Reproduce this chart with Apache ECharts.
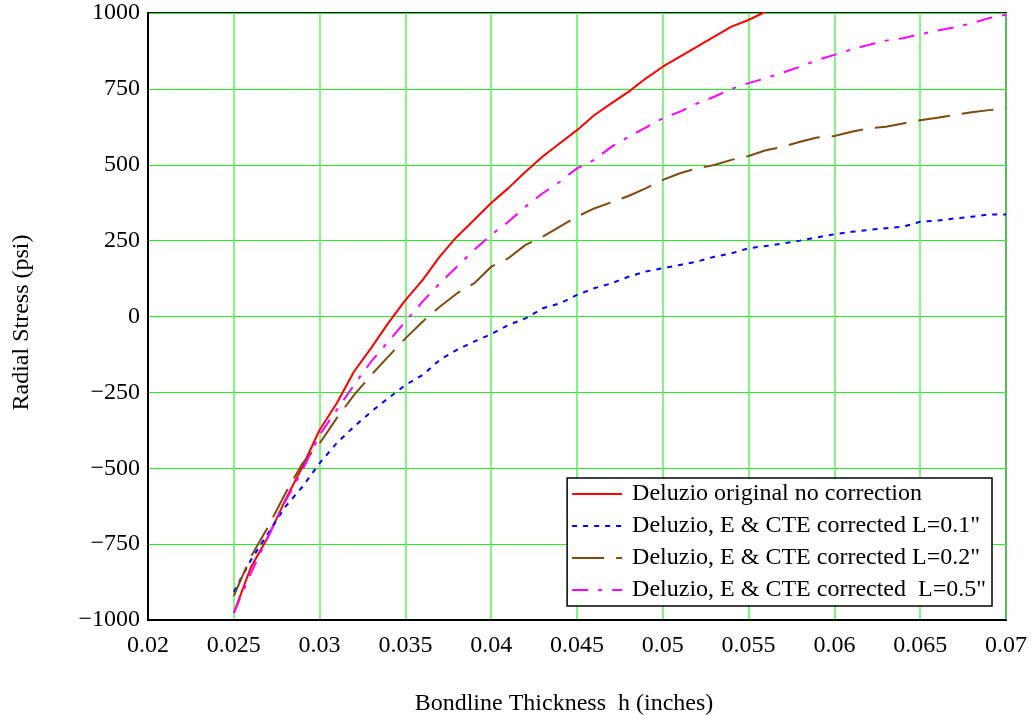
<!DOCTYPE html>
<html>
<head>
<meta charset="utf-8">
<script src="https://cdn.jsdelivr.net/npm/echarts@6/dist/echarts.min.js"></script>
<style>html,body{margin:0;padding:0;background:#fff}#c{width:1036px;height:715px}</style>
</head>
<body>
<div id="c"></div>
<script>
const thickness = [0.025,0.026,0.027,0.028,0.029,0.030,0.031,0.032,0.033,0.034,0.035,0.036,0.037,0.038,0.039,0.040,0.041,0.042,0.043,0.044,0.045,0.046,0.047,0.048,0.049,0.050,0.051,0.052,0.053,0.054,0.055,0.056,0.057,0.058,0.059,0.060,0.061,0.062,0.063,0.064,0.065,0.066,0.067,0.068,0.069,0.070];
const original = [-977,-826,-726,-605,-495,-374,-286,-182,-104,-22,54,120,197,263,318,374,423,477,527,571,614,663,702,740,784,823,856,889,922,955,977,1005];
const corrL01 = [-907,-802,-714,-627,-561,-483,-417,-363,-314,-269,-226,-193,-143,-110,-83,-58,-28,-6,27,43,71,93,109,131,148,159,170,181,197,208,225,232,241,250,261,271,279,285,291,296,312,316,323,329,336,336];
const corrL02 = [-921,-791,-693,-583,-484,-418,-335,-259,-193,-132,-72,-17,32,76,109,164,192,236,263,296,329,356,376,397,422,450,472,488,499,516,529,548,559,576,590,595,609,620,625,636,647,655,664,673,680,686];
const corrL05 = [-977,-845,-725,-610,-506,-390,-308,-226,-149,-83,-17,49,109,164,219,269,312,362,406,444,488,516,559,592,622,653,675,702,724,750,769,785,804,823,845,862,880,895,909,917,930,942,953,966,983,994];
const seriesNames = ['Deluzio original no correction','Deluzio, E & CTE corrected L=0.1"','Deluzio, E & CTE corrected L=0.2"','Deluzio, E & CTE corrected  L=0.5"'];
const xTicks = [0.02,0.025,0.03,0.035,0.04,0.045,0.05,0.055,0.06,0.065,0.07];
const yTicks = [-1000,-750,-500,-250,0,250,500,750,1000];

function pairs(vals){ return vals.map((v,i)=>[thickness[i], v]); }
const font = 'Liberation Serif, Times New Roman, serif';
const chart = echarts.init(document.getElementById('c'));
chart.setOption({
  animation:false,
  backgroundColor:'#fff',
  grid:{left:148,right:30,top:13,bottom:95,containLabel:false,outerBoundsMode:'none',show:true,borderColor:'#000',borderWidth:2,backgroundColor:'transparent'},
  legend:{
    orient:'vertical', right:44, bottom:109, itemWidth:50, itemHeight:14, itemGap:8,
    backgroundColor:'#fff', borderColor:'#000', borderWidth:1.5, padding:[4,6,4,4],
    textStyle:{fontFamily:font,fontSize:24,color:'#000',padding:[0,0,0,5]},
    itemStyle:{color:'transparent',borderColor:'transparent',borderWidth:0},
    data:seriesNames
  },
  xAxis:{
    type:'value', min:0.02, max:0.07, interval:0.005,
    name:'Bondline Thickness  h (inches)', nameLocation:'middle', nameGap:72,
    nameTextStyle:{fontFamily:font,fontSize:24,color:'#000',padding:[0,26,0,0]},
    axisLine:{onZero:false,lineStyle:{color:'#000',width:2}}, axisTick:{show:false},
    axisLabel:{fontFamily:font,fontSize:24,color:'#000',margin:14,formatter:v=>{const t=xTicks.find(x=>Math.abs(x-v)<1e-9);return t===undefined?'':String(t);}},
    splitLine:{show:true,lineStyle:{color:'#66f266',width:1.6}}
  },
  yAxis:{
    type:'value', min:-1000, max:1000, interval:250,
    name:'Radial Stress (psi)', nameLocation:'middle', nameGap:114, nameRotate:90,
    nameTextStyle:{fontFamily:font,fontSize:24,color:'#000',padding:[0,12,0,0]},
    axisLine:{onZero:false,lineStyle:{color:'#000',width:2}}, axisTick:{show:false},
    axisLabel:{fontFamily:font,fontSize:24,color:'#000',margin:8,formatter:v=>{const t=yTicks.find(y=>y===v);return t===undefined?'':String(t).replace('-','\u2212');}},
    splitLine:{show:true,lineStyle:{color:'#22ee22',width:1.2}}
  },
  series:[
    {name:seriesNames[0],type:'line',data:pairs(original),showSymbol:false,symbol:'none',lineStyle:{color:'#ff0000',width:2,type:'solid'},itemStyle:{color:'#ff0000'}},
    {name:seriesNames[1],type:'line',data:pairs(corrL01),showSymbol:false,symbol:'none',lineStyle:{color:'#0000ff',width:2,type:[5,6]},itemStyle:{color:'#0000ff'}},
    {name:seriesNames[2],type:'line',data:pairs(corrL02),showSymbol:false,symbol:'none',lineStyle:{color:'#7f4a10',width:2,type:[32,12]},itemStyle:{color:'#7f4a10'}},
    {name:seriesNames[3],type:'line',data:pairs(corrL05),showSymbol:false,symbol:'none',lineStyle:{color:'#ff00ff',width:2,type:[16,10,4,10]},itemStyle:{color:'#ff00ff'}}
  ]
});
</script>
</body>
</html>
